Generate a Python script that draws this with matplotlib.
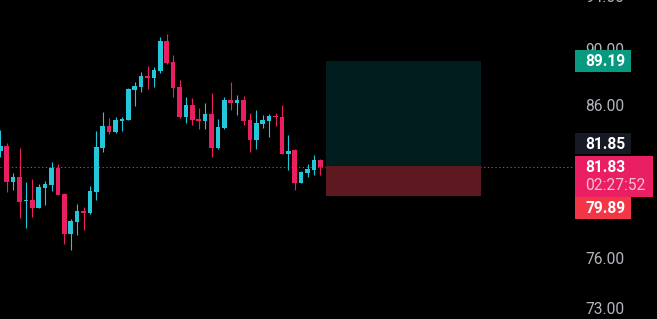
import matplotlib
matplotlib.use("Agg")
import matplotlib.pyplot as plt
import numpy as np
from matplotlib.patches import Rectangle
from matplotlib.ticker import FuncFormatter, NullLocator
from matplotlib.transforms import IdentityTransform

# OHLC values (one candle per bar)
opens = [82.91, 83.22, 80.85, 81.16, 79.59, 79.66, 79.16, 80.46, 80.63, 81.75,
         80.05, 77.51, 78.27, 78.95, 78.82, 80.18, 83.09, 84.58, 84.17, 84.93,
         84.99, 87.09, 87.30, 88.08, 87.94, 88.44, 90.61, 89.09, 87.30, 85.20,
         86.04, 85.06, 84.93, 85.41, 83.09, 84.45, 86.38, 86.18, 86.38, 84.99,
         83.63, 84.72, 84.93, 85.27, 85.20, 82.68, 82.95, 80.76, 81.42, 81.62, 82.28]
highs = [84.31, 83.40, 81.40, 83.09, 80.83, 81.03, 80.70, 80.89, 82.15, 82.02,
         80.11, 78.44, 79.40, 79.21, 80.57, 84.24, 85.55, 85.13, 85.20, 85.20,
         87.23, 87.65, 88.37, 88.80, 88.73, 90.91, 91.13, 89.59, 87.79, 86.60,
         86.52, 85.83, 86.18, 86.88, 85.06, 86.60, 87.65, 86.73, 86.66, 85.48,
         85.69, 85.34, 85.41, 85.48, 86.04, 83.97, 83.02, 81.55, 82.02, 82.62, 82.35]
lows = [82.50, 80.20, 80.31, 78.52, 77.89, 78.59, 79.14, 79.36, 80.26, 79.98,
        76.89, 76.51, 77.45, 77.76, 78.78, 79.66, 82.84, 84.04, 84.10, 84.24,
        84.97, 85.97, 86.94, 87.16, 87.30, 88.30, 88.94, 86.60, 85.13, 84.79,
        84.65, 84.38, 84.38, 82.48, 83.02, 84.38, 85.69, 85.34, 84.65, 82.82,
        83.02, 84.45, 83.83, 84.58, 82.66, 81.62, 80.31, 80.74, 81.16, 81.29, 81.29]
closes = [83.22, 80.85, 81.16, 79.55, 79.66, 79.16, 80.50, 80.72, 81.75, 80.00,
          77.51, 78.31, 78.95, 78.82, 80.24, 83.16, 84.58, 84.17, 84.99, 85.06,
          87.16, 87.37, 88.08, 87.94, 88.51, 90.61, 89.01, 87.23, 85.20, 86.04,
          84.99, 84.93, 85.41, 83.09, 84.51, 86.38, 86.18, 86.38, 84.93, 83.63,
          84.79, 84.99, 85.27, 85.20, 82.68, 82.89, 80.76, 81.49, 81.69, 82.28, 81.83]

# long position tool
pos_bars = [50.9, 75.1]
entry = 81.85
target = 89.19
stop = 79.89
last_price = 81.83
countdown = "02:27:52"

# 80 and 83 sit under the price labels, so they are left out
price_ticks = [73, 76, 86, 90, 94]

UP = "#26c6da"
DOWN = "#e91e63"
W, H = 657, 319

fig = plt.figure(figsize=(W / 100, H / 100), dpi=100, facecolor="black")
# axes runs a little above the top edge so the 94.00 label is cut like the original
ax = fig.add_axes([0, 0, 574 / W, 331 / H], facecolor="black")
ax.set_yscale("log")
ax.set_ylim(72.33, 94.59)
ax.set_xlim(-0.05, 89.64)

o = np.array(opens)
c = np.array(closes)
x = np.arange(len(o))
cols = np.where(c >= o, UP, DOWN)

# wicks and bodies
ax.vlines(x, lows, highs, colors=cols, lw=0.8, zorder=3)
bot = np.minimum(o, c)
top = np.maximum(np.maximum(o, c), bot * 1.0009)  # keep dojis visible
ax.bar(x, top - bot, bottom=bot, width=0.73, color=cols, linewidth=0, zorder=4)

# current price dotted line
ax.axhline(last_price, color=DOWN, lw=0.8, ls=(0, (1.2, 2.2)), zorder=1)

# position tool zones
ax.fill_between(pos_bars, entry, target, color="#021d1e", lw=0, zorder=2)
ax.fill_between(pos_bars, stop, entry, color="#5e1820", lw=0, zorder=2)

for s in ax.spines.values():
    s.set_visible(False)
ax.set_xticks([])
ax.yaxis.tick_right()
ax.set_yticks(price_ticks)
ax.yaxis.set_minor_locator(NullLocator())
ax.yaxis.set_major_formatter(FuncFormatter(lambda v, p: f"{v:.2f}"))
ax.tick_params(axis="y", length=0, pad=7.9, labelsize=11.2, labelcolor="#b2b5be")
for t in ax.get_yticklabels():
    t.set_fontfamily("Roboto")


# price axis labels (boxes drawn in pixels, placed from the price scale)
def py(price):
    return H - ax.transData.transform((0, price))[1]


def box(top_px, height, width, fc):
    fig.add_artist(Rectangle((575, H - top_px - height), width, height,
                             fc=fc, ec="none", transform=IdentityTransform(), zorder=5))


def label(center_px, text, color="white", weight="bold"):
    fig.text(585, H - (center_px + 5.5), text, color=color, fontsize=11.2,
             fontfamily="Roboto", fontweight=weight, va="baseline", ha="left",
             transform=IdentityTransform(), zorder=6)


yt = py(target)
box(yt - 11, 22, 56, "#089981")
label(yt, f"{target:.2f}")

yl = py(last_price)
last_top = yl - 11
box(last_top, 41, 78, DOWN)
label(yl, f"{last_price:.2f}")
label(yl + 18, countdown, color="#f8bfd2", weight="normal")

ye = last_top - 2 - 10.5
box(ye - 10.5, 21, 56, "#161a25")
label(ye, f"{entry:.2f}")

ys = max(py(stop) - 11, last_top + 41) + 11
box(ys - 11, 22, 56, "#f23645")
label(ys, f"{stop:.2f}")

fig.savefig("out.png", dpi=100, facecolor="black")
